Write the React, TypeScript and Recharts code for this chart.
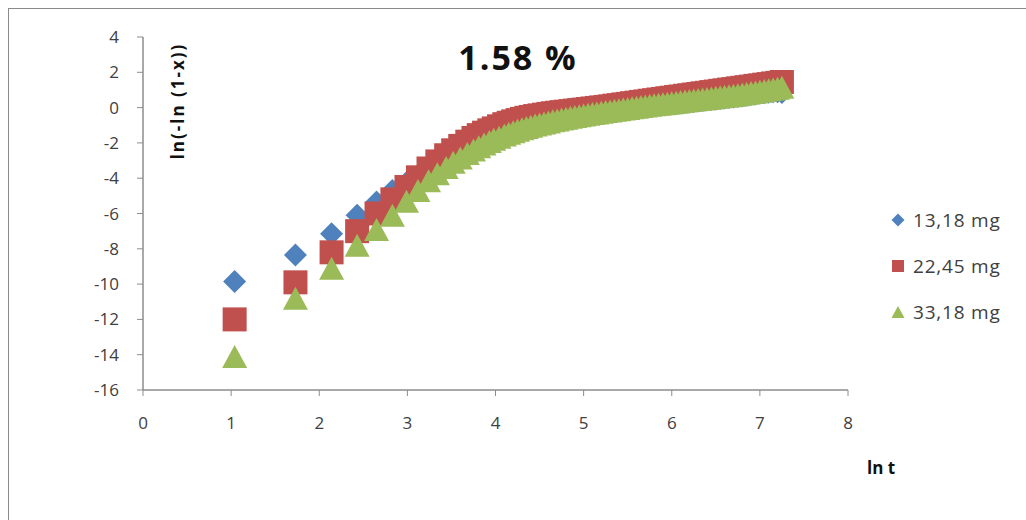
import React from 'react';
import { ScatterChart, Scatter, XAxis, YAxis } from 'recharts';

// ln t, shared by the three runs
const lnT = [
  1.04, 1.73, 2.14, 2.43, 2.65, 2.83, 2.99, 3.12, 3.24, 3.34,
  3.44, 3.52, 3.6, 3.68, 3.75, 3.81, 3.87, 3.93, 3.98, 4.04,
  4.1, 4.15, 4.2, 4.25, 4.3, 4.35, 4.4, 4.45, 4.5, 4.55,
  4.6, 4.65, 4.7, 4.75, 4.8, 4.85, 4.9, 4.95, 5.0, 5.05,
  5.1, 5.15, 5.2, 5.25, 5.3, 5.35, 5.4, 5.45, 5.5, 5.55,
  5.6, 5.65, 5.7, 5.75, 5.8, 5.85, 5.9, 5.95, 6.0, 6.05,
  6.1, 6.15, 6.2, 6.25, 6.3, 6.35, 6.4, 6.45, 6.5, 6.55,
  6.6, 6.65, 6.7, 6.75, 6.8, 6.85, 6.9, 6.95, 7.0, 7.05,
  7.1, 7.15, 7.2, 7.25,
];

// ln(-ln(1-x)) for each sample mass
const mg1318 = [
  -9.85, -8.35, -7.15, -6.1, -5.35, -4.7, -4.25, -3.85, -3.4, -3.05,
  -2.72, -2.45, -2.2, -1.98, -1.8, -1.65, -1.52, -1.4, -1.3, -1.2,
  -1.1, -1.02, -0.95, -0.89, -0.83, -0.77, -0.72, -0.67, -0.62, -0.57,
  -0.53, -0.49, -0.45, -0.41, -0.38, -0.34, -0.31, -0.28, -0.25, -0.22,
  -0.19, -0.16, -0.13, -0.1, -0.08, -0.05, -0.03, 0.0, 0.02, 0.04,
  0.06, 0.08, 0.1, 0.12, 0.14, 0.16, 0.18, 0.19, 0.2, 0.23,
  0.26, 0.29, 0.31, 0.34, 0.37, 0.4, 0.43, 0.46, 0.48, 0.51,
  0.54, 0.57, 0.6, 0.63, 0.66, 0.7, 0.74, 0.77, 0.81, 0.84,
  0.87, 0.9, 0.9, 0.86,
];
const mg2245 = [
  -12.0, -9.9, -8.2, -7.0, -6.0, -5.2, -4.5, -3.95, -3.45, -3.05,
  -2.7, -2.42, -2.17, -1.93, -1.72, -1.56, -1.42, -1.29, -1.18, -1.06,
  -0.94, -0.86, -0.78, -0.71, -0.64, -0.58, -0.53, -0.48, -0.44, -0.4,
  -0.36, -0.32, -0.29, -0.26, -0.23, -0.2, -0.17, -0.14, -0.11, -0.08,
  -0.05, -0.02, 0.01, 0.04, 0.07, 0.11, 0.14, 0.18, 0.21, 0.25,
  0.28, 0.32, 0.35, 0.39, 0.42, 0.46, 0.49, 0.53, 0.56, 0.6,
  0.63, 0.67, 0.7, 0.74, 0.77, 0.81, 0.84, 0.88, 0.91, 0.95,
  0.98, 1.02, 1.05, 1.09, 1.12, 1.16, 1.19, 1.23, 1.26, 1.3,
  1.33, 1.37, 1.4, 1.45,
];
const mg3318 = [
  -14.1, -10.8, -9.1, -7.8, -6.9, -6.1, -5.3, -4.7, -4.15, -3.75,
  -3.4, -3.1, -2.85, -2.6, -2.4, -2.22, -2.06, -1.92, -1.8, -1.68,
  -1.55, -1.46, -1.37, -1.28, -1.2, -1.13, -1.06, -0.99, -0.93, -0.87,
  -0.81, -0.75, -0.7, -0.65, -0.6, -0.55, -0.51, -0.46, -0.42, -0.38,
  -0.34, -0.3, -0.26, -0.22, -0.19, -0.15, -0.12, -0.08, -0.05, -0.01,
  0.02, 0.06, 0.09, 0.13, 0.16, 0.19, 0.22, 0.25, 0.28, 0.31,
  0.34, 0.37, 0.4, 0.43, 0.46, 0.49, 0.52, 0.55, 0.58, 0.61,
  0.64, 0.67, 0.7, 0.73, 0.77, 0.81, 0.85, 0.89, 0.93, 0.97,
  1.01, 1.05, 1.09, 1.15,
];

const seriesNames = ['13,18 mg', '22,45 mg', '33,18 mg'];
const xTicks = [0, 1, 2, 3, 4, 5, 6, 7, 8];
const yTicks = [-16, -14, -12, -10, -8, -6, -4, -2, 0, 2, 4];

const BLUE = '#4F81BD';
const RED = '#C0504D';
const GREEN = '#9BBB59';
const AXIS = '#8c8c8c';
const TEXT = '#404040';
const FONT = '"Open Sans", "Noto Sans", sans-serif';

const toPoints = (ys: number[]) => lnT.map((x, i) => ({ x, y: ys[i] }));

const diamond = (cx: number, cy: number, r: number, fill: string) => (
  <polygon points={`${cx},${cy - r} ${cx + r},${cy} ${cx},${cy + r} ${cx - r},${cy}`} fill={fill} />
);
const square = (cx: number, cy: number, s: number, fill: string) => (
  <rect x={cx - s} y={cy - s} width={s * 2} height={s * 2} fill={fill} />
);
const triangle = (cx: number, cy: number, w: number, h: number, fill: string) => (
  <polygon points={`${cx},${cy - h} ${cx + w},${cy + h} ${cx - w},${cy + h}`} fill={fill} />
);

const legendRows = [
  { y: 220, mark: (x: number, y: number) => diamond(x, y, 6.5, BLUE) },
  { y: 266, mark: (x: number, y: number) => square(x, y, 6, RED) },
  { y: 312, mark: (x: number, y: number) => triangle(x, y, 6.5, 6, GREEN) },
];

export default function App() {
  return (
    <div
      style={{
        position: 'fixed',
        left: 0,
        top: 0,
        width: 1026,
        height: 520,
        overflow: 'hidden',
        background: '#fff',
        fontFamily: FONT,
      }}
    >
      <div
        style={{
          position: 'absolute',
          left: 8,
          top: 8,
          width: 1040,
          height: 540,
          borderLeft: '1.5px solid #8a8a8a',
          borderTop: '1.5px solid #8a8a8a',
        }}
      />
      <ScatterChart width={1026} height={520} margin={{ top: 37, right: 178, bottom: 100, left: 103 }}>
        <XAxis
          type="number"
          dataKey="x"
          domain={[0, 8]}
          ticks={xTicks}
          height={30}
          tickSize={6}
          tickMargin={21}
          axisLine={{ stroke: AXIS, strokeWidth: 1.5 }}
          tickLine={{ stroke: AXIS }}
          tick={{ fill: TEXT, fontSize: 17 }}
        />
        <YAxis
          type="number"
          dataKey="y"
          domain={[-16, 4]}
          ticks={yTicks}
          width={40}
          tickSize={6}
          tickMargin={18}
          axisLine={{ stroke: AXIS, strokeWidth: 1.5 }}
          tickLine={{ stroke: AXIS }}
          tick={{ fill: TEXT, fontSize: 17 }}
        />
        <Scatter
          name={seriesNames[0]}
          data={toPoints(mg1318)}
          fill={BLUE}
          isAnimationActive={false}
          shape={(p: any) => diamond(p.cx, p.cy, 11.5, BLUE)}
        />
        <Scatter
          name={seriesNames[1]}
          data={toPoints(mg2245)}
          fill={RED}
          isAnimationActive={false}
          shape={(p: any) => square(p.cx, p.cy, 12, RED)}
        />
        <Scatter
          name={seriesNames[2]}
          data={toPoints(mg3318)}
          fill={GREEN}
          isAnimationActive={false}
          shape={(p: any) => triangle(p.cx, p.cy, 12.5, 11.5, GREEN)}
        />
      </ScatterChart>

      {/* title, axis titles and legend */}
      <svg
        width={1026}
        height={520}
        style={{ position: 'absolute', left: 0, top: 0, pointerEvents: 'none', fontFamily: FONT }}
      >
        <text x={518} y={70} textAnchor="middle" fontSize={34} fontWeight={700} fill="#111" letterSpacing={2}>
          1.58 %
        </text>
        <text
          transform="translate(184,101) rotate(-90)"
          textAnchor="middle"
          fontSize={17}
          fontWeight={700}
          fill="#111"
          letterSpacing={2}
        >
          ln(-ln (1-x))
        </text>
        <text x={867} y={474} fontSize={17} fontWeight={700} fill="#111">
          ln t
        </text>
        {legendRows.map((row, i) => (
          <g key={seriesNames[i]}>
            {row.mark(898, row.y)}
            <text x={913} y={row.y + 7} fontSize={19} fill={TEXT} letterSpacing={0.8}>
              {seriesNames[i]}
            </text>
          </g>
        ))}
      </svg>
    </div>
  );
}
